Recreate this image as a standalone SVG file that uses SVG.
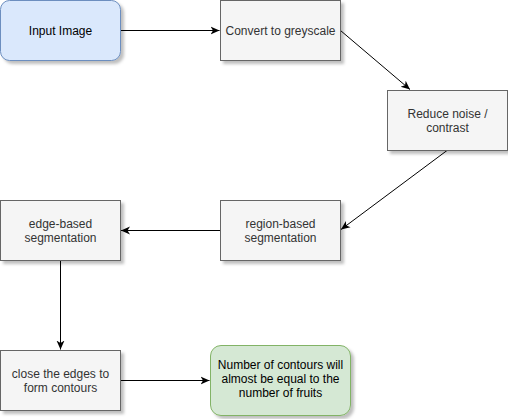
<svg xmlns="http://www.w3.org/2000/svg" width="508" height="419" viewBox="0 0 508 419">
<defs>
<filter id="sh" x="-10%" y="-10%" width="130%" height="140%">
<feDropShadow dx="3" dy="3" stdDeviation="1.5" flood-color="#000" flood-opacity="0.25"/>
</filter>
<marker id="arr" viewBox="0 0 10 10" refX="9" refY="5" markerWidth="10" markerHeight="10" markerUnits="userSpaceOnUse" orient="auto">
<path d="M0,1 L9,5 L0,9 L2.5,5 Z" fill="#000"/>
</marker>
<style>
.box{fill:#f5f5f5;stroke:#666666;stroke-width:1;filter:url(#sh)}
.blue{fill:#dae8fc;stroke:#6c8ebf;stroke-width:1;filter:url(#sh)}
.green{fill:#d5e8d4;stroke:#82b366;stroke-width:1;filter:url(#sh)}
text{font-family:"Liberation Sans",Arial,sans-serif;font-size:12px;text-anchor:middle}
.g{fill:#333333}
.k{fill:#000000}
.c{fill:none;stroke:#000;stroke-width:1;marker-end:url(#arr)}
</style>
</defs>
<rect width="508" height="419" fill="#fff"/>
<g id="connectors">
<path class="c" d="M120.5,30.5 L219.5,30.5"/>
<path class="c" d="M340.5,30.5 L410,89.5"/>
<path class="c" d="M447,150.5 L341,229.5"/>
<path class="c" d="M220.5,230.5 L121,230.5"/>
<path class="c" d="M60.5,260.5 L60.5,349.5"/>
<path class="c" d="M120.5,380.5 L209.5,380.5"/>
</g>
<g id="input-image">
<rect class="blue" x="0.5" y="0.5" width="120" height="60" rx="9" ry="9"/>
<text class="k" x="60.5" y="35">Input Image</text>
</g>
<g id="convert">
<rect class="box" x="220.5" y="0.5" width="120" height="60"/>
<text class="g" x="280.5" y="35">Convert to greyscale</text>
</g>
<g id="reduce">
<rect class="box" x="387.5" y="90.5" width="120" height="60"/>
<text class="g" x="447.5" y="118">Reduce noise /</text>
<text class="g" x="447.5" y="132">contrast</text>
</g>
<g id="region">
<rect class="box" x="220.5" y="200.5" width="120" height="60"/>
<text class="g" x="280.5" y="228">region-based</text>
<text class="g" x="280.5" y="242">segmentation</text>
</g>
<g id="edge">
<rect class="box" x="0.5" y="200.5" width="120" height="60"/>
<text class="g" x="60.5" y="228">edge-based</text>
<text class="g" x="60.5" y="242">segmentation</text>
</g>
<g id="close">
<rect class="box" x="0.5" y="350.5" width="120" height="60"/>
<text class="g" x="60.5" y="378">close the edges to</text>
<text class="g" x="60.5" y="392">form contours</text>
</g>
<g id="result">
<rect class="green" x="210.5" y="345.5" width="140" height="70" rx="10.5" ry="10.5"/>
<text class="k" x="280.5" y="369">Number of contours will</text>
<text class="k" x="280.5" y="383">almost be equal to the</text>
<text class="k" x="280.5" y="397">number of fruits</text>
</g>
</svg>
